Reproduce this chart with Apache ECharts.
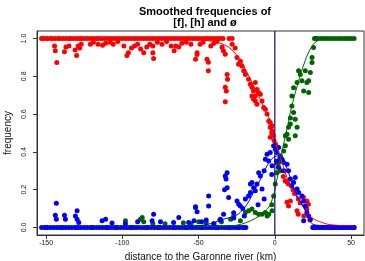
<!DOCTYPE html>
<html>
<head>
<meta charset="utf-8">
<script src="https://cdn.jsdelivr.net/npm/echarts@6/dist/echarts.min.js"></script>
<style>
  html, body { margin: 0; padding: 0; background: #fff; }
  #chart { width: 365px; height: 261px; }
</style>
</head>
<body>
<div id="chart"></div>
<script>
// tick values
var xTicks = [-150, -100, -50, 0, 50];
var yTicks = [0, 0.2, 0.4, 0.6, 0.8, 1.0];

// [f] (red) points: x positions sitting at 1.0, x positions at 0, and scattered points
var fOnesX = [-153,-152,-150,-149,-147,-146,-144,-142,-141,-139,-137,-135,-134,-132,-130,-128,-127,-125,-123,-121,-119,-117,-116,-114,-112,-110,-108,-106,-104,-102,-100,-98,-96,-94,-92,-90,-88,-86,-84,-82,-80,-78,-76,-74,-72,-70,-68,-66,-64,-62,-60,-58,-56,-54,-52,-50,-48,-46,-44,-42,-40,-38,-36,-34,-30,-28];
var fZerosX = [25,27,29,31,33,35,37,39,41,43,45,47,49,51,52];
var fScatter = [
  [-144,0.935],[-143,0.873],[-144.5,0.96],[-138,0.93],[-137,0.955],[-135,0.96],
  [-131,0.94],[-130,0.91],[-129,0.96],[-128,0.95],[-127,0.97],
  [-121,0.97],[-119,0.98],[-116,0.97],[-113,0.965],[-111,0.975],[-108,0.98],[-106,0.97],[-103,0.985],
  [-99,0.96],[-97,0.91],[-96,0.925],[-94,0.95],[-92,0.96],[-90,0.97],[-88,0.945],[-86,0.925],[-84,0.955],[-82,0.97],
  [-80,0.925],[-80,0.96],[-79.5,0.895],[-77,0.98],[-74,0.97],[-71,0.985],
  [-68,0.96],[-66,0.935],[-65,0.96],[-63,0.955],[-61,0.975],[-58,0.98],[-55,0.97],
  [-52,0.89],[-51,0.915],[-51,0.925],[-49,0.97],[-47,0.98],[-44.5,0.89],[-43.6,0.874],[-43.6,0.83],[-42,0.96],[-40,0.975],[-38,0.985],
  [-34.6,0.954],[-33.7,0.935],[-32.5,0.917],[-31.3,0.81],[-31,0.785],[-32.5,0.742],[-31.8,0.723],[-32.5,0.665],
  [-28,0.97],[-26,0.95],[-24.8,0.9],[-23.8,0.864],[-22.6,0.88],[-21.5,0.855],[-20.4,0.83],[-19.3,0.81],
  [-17.2,0.785],[-16,0.758],[-15,0.742],[-12.8,0.768],[-14,0.723],[-12.8,0.696],[-11.7,0.73],[-10.7,0.715],
  [-9.5,0.705],[-15,0.696],[-14,0.68],[-12.8,0.67],[-11.7,0.652],[-8.4,0.67],[-7.3,0.635],[-6.2,0.626],
  [-5.1,0.6],[-4,0.564],[-3,0.555],[-1.8,0.538],[-3,0.53],[-1.8,0.51],[-1,0.485],[-3,0.478],[-2,0.5],
  [-0.5,0.46],[0.5,0.44],[1.4,0.34],[1.4,0.29],[2.3,0.32],[3,0.36],[5.6,0.27],[6.9,0.246],[8,0.24],
  [8.9,0.23],[8,0.134],[9,0.114],[10.2,0.14],[12,0.2],[13,0.18],[15.4,0.15],[16.7,0.13],[18.7,0.16],
  [21,0.14],[22,0.123],[21,0.097],[15.4,0.07],[19,0.06],[14.6,0.088],[23,0.04]
];

// [h] (blue) points
var hZerosX = [-153,-151,-149,-147,-145,-143,-141,-139,-137,-135,-133,-131,-129,-127,-125,-123,-121,-119,-117,-115,-113,-111,-109,-107,-105,-103,-101,-99,-97,-95,-93,-91,-89,-87,-85,-83,-81,-79,-77,-75,-73,-71,-69,-67,-65,-63,-61,-59,-57,-55,-53,-51,-49,-47,-45,-43,-41,-39,-37,-35,-33,-31,-29,-27,-25,-23,-21,-19,25,27,29,31,33,35,37,39,41,43,45,47,49,51,52];
var hScatter = [
  [-143.3,0.128],[-144,0.065],[-143.3,0.044],[-138,0.065],[-137.4,0.044],[-129.7,0.088],[-130.8,0.06],
  [-129.7,0.044],[-128.6,0.026],[-113.3,0.035],[-111,0.044],[-106.8,0.023],[-98,0.02],[-90,0.03],
  [-79.5,0.07],[-80.5,0.035],[-75,0.03],[-66.4,0.026],[-63,0.053],[-56.5,0.026],[-53,0.035],
  [-52,0.11],[-51,0.083],[-52,0.106],[-43.4,0.167],[-43.4,0.114],[-48,0.03],[-40,0.02],[-35.7,0.044],
  [-33.6,0.07],[-31.3,0.29],[-32.5,0.273],[-32,0.256],[-31.3,0.21],[-30.3,0.159],[-33,0.2],[-27,0.078],
  [-24.8,0.14],[-23.7,0.123],[-22.6,0.114],[-21,0.1],[-19.3,0.15],[-17.2,0.167],[-16,0.185],[-16,0.23],
  [-15,0.238],[-13.9,0.21],[-12.8,0.194],[-11.7,0.23],[-10.6,0.29],[-9.5,0.273],[-8.4,0.203],[-7,0.3],
  [-6.2,0.361],[-5.1,0.388],[-4,0.352],[-3,0.397],[-1.8,0.326],[-0.8,0.432],[0.3,0.414],[1.4,0.397],
  [2.5,0.423],[3.6,0.37],[4.7,0.361],[5.8,0.344],[8,0.335],[9,0.3],[10.2,0.256],[12.3,0.238],[13.4,0.265],
  [14.6,0.203],[15.6,0.185],[17.8,0.167],[18.9,0.14],[20,0.114],[21,0.079],[22.2,0.061],[23.3,0.044],
  [18.9,0.035],[2.5,0.317],[1,0.35],[-2,0.28],[-27,0.05],[-20,0.06],[-36,0.04],[-45,0.04],[-11,0.12],
  [-7,0.15],[6,0.3],[11,0.22]
];

// [ø] (green) points
var oZerosX = [-150,-140,-130,-120,-110,-104,-94,-84,-76,-66,-58,-48,-38,-30,-24,-20];
var oOnesX = [26,27,28,30,32,34,36,38,40,42,44,46,48,50,52];
var oScatter = [
  [-98,0.035],[-88.2,0.044],[-87,0.053],[-86,0.03],[-80,0.02],[-72,0.02],[-60,0.025],[-55,0.02],
  [-50,0.03],[-45,0.025],[-40,0.02],[-35,0.03],[-29,0.044],[-27,0.061],[-22.6,0.035],[-19.3,0.079],
  [-17.2,0.088],[-15,0.097],[-12.8,0.079],[-10.6,0.07],[-8.4,0.07],[-6.2,0.079],[-4,0.07],[-1.8,0.088],
  [-0.8,0.167],[0.3,0.23],[1.4,0.29],[2.5,0.344],[3.6,0.38],[5.8,0.405],[6.9,0.432],[8,0.494],[9,0.467],
  [13.4,0.485],[6.9,0.485],[9,0.53],[10.2,0.547],[10.2,0.58],[12.3,0.608],[13.4,0.573],[14.6,0.53],
  [11.2,0.643],[11.2,0.696],[12.3,0.74],[14.6,0.767],[15.6,0.829],[16.7,0.81],[17.8,0.776],[18.9,0.723],
  [20,0.829],[21,0.767],[22.2,0.714],[22.2,0.776],[23.3,0.82],[24.4,0.873],[24.4,0.9],[25.4,0.952],
  [4,0.3],[-2,0.12],[-5,0.06]
];

// smoothed curves
var fCurve = [[-153,1],[-100,1],[-60,0.995],[-45,0.99],[-34,0.97],[-27,0.93],[-20.5,0.855],[-14,0.75],[-7.4,0.64],[-1.8,0.54],[0.3,0.46],[4.7,0.345],[10.2,0.22],[16.7,0.134],[23,0.06],[32,0.023],[40,0.012],[52,0.008]];
var hCurve = [[-153,0],[-60,0.003],[-45,0.015],[-35,0.04],[-22.6,0.08],[-11.7,0.22],[-5.1,0.326],[-1,0.37],[3.6,0.38],[8,0.31],[14.6,0.167],[21,0.08],[25,0.017],[32,0.01],[52,0.005]];
var oCurve = [[-153,0],[-60,0.002],[-40,0.005],[-29,0.008],[-16,0.035],[-5,0.097],[-1,0.167],[1.4,0.256],[3.6,0.35],[5.7,0.44],[8,0.52],[10.2,0.61],[14.7,0.75],[18.7,0.855],[23,0.94],[27.7,0.987],[35,0.998],[52,1]];

// vertical reference line at the river
var riverLine = [[0, -0.04], [0, 1.04]];

var App = {};

App.init = function(){
  var chart = echarts.init(document.getElementById('chart'), null, {renderer: 'canvas'});

  var pts = function(onesX, zerosX, scatter){
    var out = [];
    onesX.forEach(function(x){ out.push([x, 1]); });
    zerosX.forEach(function(x){ out.push([x, 0]); });
    return out.concat(scatter);
  };

  var dots = function(name, data, color){
    return {
      name: name, type: 'scatter', data: data,
      symbolSize: 5, silent: true,
      itemStyle: {color: color, opacity: 1}
    };
  };
  var curve = function(name, data, color, smooth, width){
    return {
      name: name, type: 'line', data: data, smooth: smooth,
      showSymbol: false, silent: true, z: 4,
      lineStyle: {color: color, width: width || 1}
    };
  };

  var txt = '#222';
  var option = {
    animation: false,
    textStyle: {fontFamily: 'Liberation Sans, Arial, sans-serif'},
    title: {
      text: 'Smoothed frequencies of\n[f], [h] and ø',
      left: 200, top: 1.5, textAlign: 'center',
      textStyle: {fontSize: 11, fontWeight: 'bold', color: '#000', lineHeight: 11,
        fontFamily: 'Liberation Sans, Arial, sans-serif'}
    },
    grid: {left: 37, right: 1, top: 31, bottom: 26, show: true, borderColor: '#333', borderWidth: 1,
      outerBoundsMode: 'none', containLabel: false},
    xAxis: {
      type: 'value', min: -156, max: 58.5,
      name: 'distance to the Garonne river (km)', nameLocation: 'middle', nameGap: 13,
      nameTextStyle: {fontSize: 10, color: '#111'},
      axisLine: {show: true, onZero: false, lineStyle: {color: '#333'}},
      axisTick: {show: true, length: 4, customValues: xTicks, lineStyle: {color: '#333'}},
      axisLabel: {customValues: xTicks, fontSize: 7, color: txt, margin: 5},
      splitLine: {show: false}
    },
    yAxis: {
      type: 'value', min: -0.04, max: 1.04,
      name: 'frequency', nameLocation: 'middle', nameGap: 18,
      nameTextStyle: {fontSize: 10, color: '#111'},
      axisLine: {show: true, onZero: false, lineStyle: {color: '#333'}},
      axisTick: {show: true, length: 4, customValues: yTicks, lineStyle: {color: '#333'}},
      axisLabel: {customValues: yTicks, fontSize: 7, color: txt, margin: 9, rotate: 90,
        formatter: function(v){ return v.toFixed(1); }},
      splitLine: {show: false}
    },
    series: [
      dots('f', pts(fOnesX, fZerosX, fScatter), '#ff0000'),
      dots('ø', pts(oOnesX, oZerosX, oScatter), '#006400'),
      dots('h', pts([], hZerosX, hScatter), '#0000ff'),
      curve('f smooth', fCurve, '#ff0000', 0.4),
      curve('ø smooth', oCurve, '#006400', 0.4),
      curve('h smooth', hCurve, '#0000ff', 0.4),
      curve('river', riverLine, '#1c1c88', false, 1.3)
    ]
  };

  chart.setOption(option);
};

App.init();
</script>
</body>
</html>
